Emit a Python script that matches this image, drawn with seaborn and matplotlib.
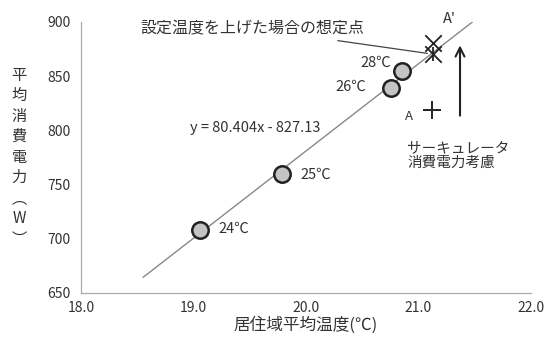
import numpy as np
import pandas as pd
import matplotlib
matplotlib.use("Agg")
import matplotlib.pyplot as plt
import seaborn as sns

# measured points (residential zone temperature, average power)
setpoints = ["24℃", "25℃", "26℃", "28℃"]
temps = [19.06, 19.79, 20.76, 20.85]
power = [708, 760, 839, 855]

# regression line
slope = 80.404
intercept = -827.13
line_x = [18.55, 21.5]

# point A (circulator power considered) and assumed points A'
a_point = (21.12, 819)
a_prime_x = [21.13, 21.13]
a_prime_y = [881, 870]

x_ticks = [18.0, 19.0, 20.0, 21.0, 22.0]
y_ticks = [650, 700, 750, 800, 850, 900]

sns.set_theme(style="white")
plt.rcParams["font.family"] = ["Noto Sans CJK JP", "DejaVu Sans"]

df = pd.DataFrame({"temp": temps, "power": power, "label": setpoints})
line_df = pd.DataFrame({"x": line_x, "y": [slope * v + intercept for v in line_x]})

fig, ax = plt.subplots(figsize=(5.45, 3.43), dpi=100)
fig.subplots_adjust(left=0.149, right=0.974, top=0.936, bottom=0.146)

sns.lineplot(data=line_df, x="x", y="y", color="#888888", linewidth=1.0, ax=ax)
sns.scatterplot(data=df, x="temp", y="power", s=140, color="#c4c4c4",
                edgecolor="#222222", linewidth=1.8, zorder=3, ax=ax)

ax.scatter(a_prime_x, a_prime_y, marker="x", s=140, color="#222222", linewidths=1.3, zorder=4)
ax.scatter([a_prime_x[1]], [a_prime_y[1]], marker="|", s=110, color="#222222", linewidths=1.3, zorder=4)
ax.scatter([a_point[0]], [a_point[1]], marker="+", s=170, color="#222222", linewidths=1.4, zorder=4)

# arrow for circulator power
ax.annotate("", xy=(21.37, 881), xytext=(21.37, 811),
            arrowprops=dict(arrowstyle="->", color="#222222", lw=1.5, mutation_scale=16))

tc = "#333333"
fs = 10.5
ax.text(19.22, 709, "24℃", fontsize=fs, color=tc, va="center")
ax.text(19.95, 759, "25℃", fontsize=fs, color=tc, va="center")
ax.text(20.54, 840, "26℃", fontsize=fs, color=tc, va="center", ha="right")
ax.text(20.76, 862, "28℃", fontsize=fs, color=tc, va="center", ha="right")
ax.text(18.97, 802, "y = 80.404x - 827.13", fontsize=fs, color=tc, va="center")
ax.text(21.22, 903, "A'", fontsize=fs, color=tc, va="center")
ax.text(20.88, 813, "A", fontsize=9.5, color=tc, va="center")
ax.text(20.90, 777, "サーキュレータ\n消費電力考慮", fontsize=10.5, color=tc, va="center",
        linespacing=1.05)
ax.annotate("設定温度を上げた場合の想定点", xy=(21.08, 871), xytext=(20.52, 894),
            fontsize=11.5, color=tc, va="center", ha="right",
            arrowprops=dict(arrowstyle="-", color="#444444", lw=0.9, shrinkA=2, shrinkB=0))

ax.set_xlim(18.0, 22.0)
ax.set_ylim(650, 900)
ax.set_xticks(x_ticks)
ax.set_xticklabels([f"{v:.1f}" for v in x_ticks])
ax.set_yticks(y_ticks)
ax.tick_params(axis="both", labelsize=10, colors="#333333", length=4, width=0.8, color="#aaaaaa")
ax.tick_params(axis="x", direction="inout")
ax.tick_params(axis="y", direction="out")

for side in ["top", "right"]:
    ax.spines[side].set_visible(False)
for side in ["left", "bottom"]:
    ax.spines[side].set_color("#aaaaaa")
    ax.spines[side].set_linewidth(0.9)

ax.set_xlabel("居住域平均温度(℃)", fontsize=12, color=tc, labelpad=1)
ax.set_ylabel("")
fig.text(0.035, 0.542, "平\n均\n消\n費\n電\n力\n︵\nW\n︶", fontsize=11, color=tc,
         ha="center", va="center", linespacing=1.27)

fig.savefig("out.png", dpi=100)
